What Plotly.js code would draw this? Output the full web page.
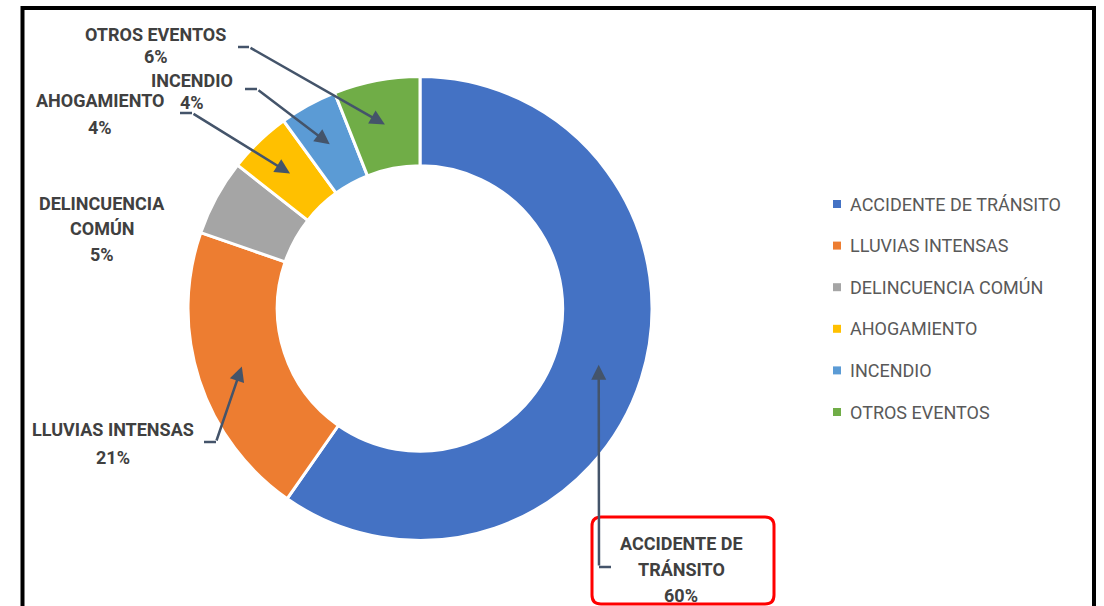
<!DOCTYPE html>
<html><head><meta charset="utf-8">
<script src="https://cdn.plot.ly/plotly-3.0.1.min.js"></script>
<style>html,body{margin:0;padding:0;background:#fff}#chart{width:1104px;height:606px}</style>
</head><body><div id="chart"></div>
<script>
// ---- data ----
const categories = ['ACCIDENTE DE TRÁNSITO','LLUVIAS INTENSAS','DELINCUENCIA COMÚN','AHOGAMIENTO','INCENDIO','OTROS EVENTOS'];
const values = [59.7, 20.6, 5.3, 4.4, 4.0, 6.0];
const labelLines = [['ACCIDENTE DE','TRÁNSITO'],['LLUVIAS INTENSAS'],['DELINCUENCIA','COMÚN'],['AHOGAMIENTO'],['INCENDIO'],['OTROS EVENTOS']];
const colors = ['#4472C4','#ED7D31','#A5A5A5','#FFC000','#5B9BD5','#70AD47'];

// ---- layout constants (pixels) ----
const W = 1104, H = 606;
const CX = 420, CY = 308.5, R = 232, HOLE = 0.615;
const fx = x => x / W, fy = y => 1 - y / H;
const labelPos = [[681,543],[113,429],[102,203],[100,100],[192,80],[155.5,34]];
const lineGap = [26,28,26,27,22,22];
const leaders = [
  {elbow:[611,567], tail:[599,567]},
  {elbow:[204,442], tail:[216,442]},
  null,
  {elbow:[180,113], tail:[192,113]},
  {elbow:[245,89], tail:[257,89]},
  {elbow:[238,47], tail:[249,47]}
];
const LEG_X = 833, LEG_Y0 = 204, LEG_STEP = 41.6;
const leaderColor = '#44546A';
const labelColor = '#404040';

const total = values.reduce((a,b)=>a+b,0);

const trace = {
  type:'pie', labels:categories, values:values, sort:false,
  direction:'clockwise', rotation:0, hole:HOLE,
  marker:{colors:colors, line:{color:'#ffffff', width:3}},
  textinfo:'none', hoverinfo:'label+percent', showlegend:false,
  domain:{x:[fx(CX-R), fx(CX+R)], y:[fy(CY+R), fy(CY-R)]}
};

const shapes = [];
const annotations = [];

// outer frame
shapes.push({type:'rect', xref:'paper', yref:'paper', x0:fx(22.5), x1:fx(1094), y0:fy(620), y1:fy(8),
  line:{color:'#000000', width:4}, fillcolor:'rgba(0,0,0,0)'});

// red rounded box around main label
(function(){
  const x0=592, x1=774, y0=517, y1=604, r=9;
  const P=(x,y)=>fx(x)+','+fy(y);
  const d = 'M'+P(x0+r,y0)+' L'+P(x1-r,y0)+' Q'+P(x1,y0)+' '+P(x1,y0+r)+
            ' L'+P(x1,y1-r)+' Q'+P(x1,y1)+' '+P(x1-r,y1)+
            ' L'+P(x0+r,y1)+' Q'+P(x0,y1)+' '+P(x0,y1-r)+
            ' L'+P(x0,y0+r)+' Q'+P(x0,y0)+' '+P(x0+r,y0)+' Z';
  shapes.push({type:'path', xref:'paper', yref:'paper', path:d, line:{color:'#FF0000', width:3}});
})();

// labels, leaders, arrows
let cum = 0;
values.forEach((v,i)=>{
  const pct = Math.round(v/total*100) + '%';
  const mid = (cum + v/2) / total * 2 * Math.PI;
  cum += v;
  const rr = R * (1 + HOLE) / 2;
  const tipX = CX + rr * Math.sin(mid);
  const tipY = CY - rr * Math.cos(mid);

  const lines = labelLines[i].concat([pct]);
  lines.forEach((t,k)=>{
    annotations.push({xref:'paper', yref:'paper', x:fx(labelPos[i][0]), y:fy(labelPos[i][1] + k*lineGap[i]),
      xanchor:'center', yanchor:'middle', showarrow:false, text:'<b>'+t+'</b>',
      font:{family:'Roboto', size:18, color:labelColor}});
  });

  const L = leaders[i];
  if (L) {
    shapes.push({type:'line', xref:'paper', yref:'paper', x0:fx(L.elbow[0]), y0:fy(L.elbow[1]),
      x1:fx(L.tail[0]), y1:fy(L.tail[1]), line:{color:leaderColor, width:2.5}});
    annotations.push({xref:'paper', yref:'paper', x:fx(tipX), y:fy(tipY), axref:'pixel', ayref:'pixel',
      ax:L.tail[0]-tipX, ay:L.tail[1]-tipY, text:'', showarrow:true, arrowhead:2, arrowsize:1.2,
      arrowwidth:2.5, arrowcolor:leaderColor, standoff:0, startstandoff:0});
  }

  // legend entry
  const ly = LEG_Y0 + i*LEG_STEP;
  shapes.push({type:'rect', xref:'paper', yref:'paper', x0:fx(LEG_X), x1:fx(LEG_X+8), y0:fy(ly+4), y1:fy(ly-4),
    fillcolor:colors[i], line:{width:0}});
  annotations.push({xref:'paper', yref:'paper', x:fx(LEG_X+15), y:fy(ly), xanchor:'left', yanchor:'middle',
    showarrow:false, text:categories[i], font:{family:'Roboto', size:18, color:'#595959'}});
});

const layout = {
  width:W, height:H, margin:{l:0,r:0,t:0,b:0}, showlegend:false,
  paper_bgcolor:'#ffffff', plot_bgcolor:'#ffffff',
  shapes:shapes, annotations:annotations
};
Plotly.newPlot('chart', [trace], layout, {displayModeBar:false, staticPlot:true});
</script></body></html>
